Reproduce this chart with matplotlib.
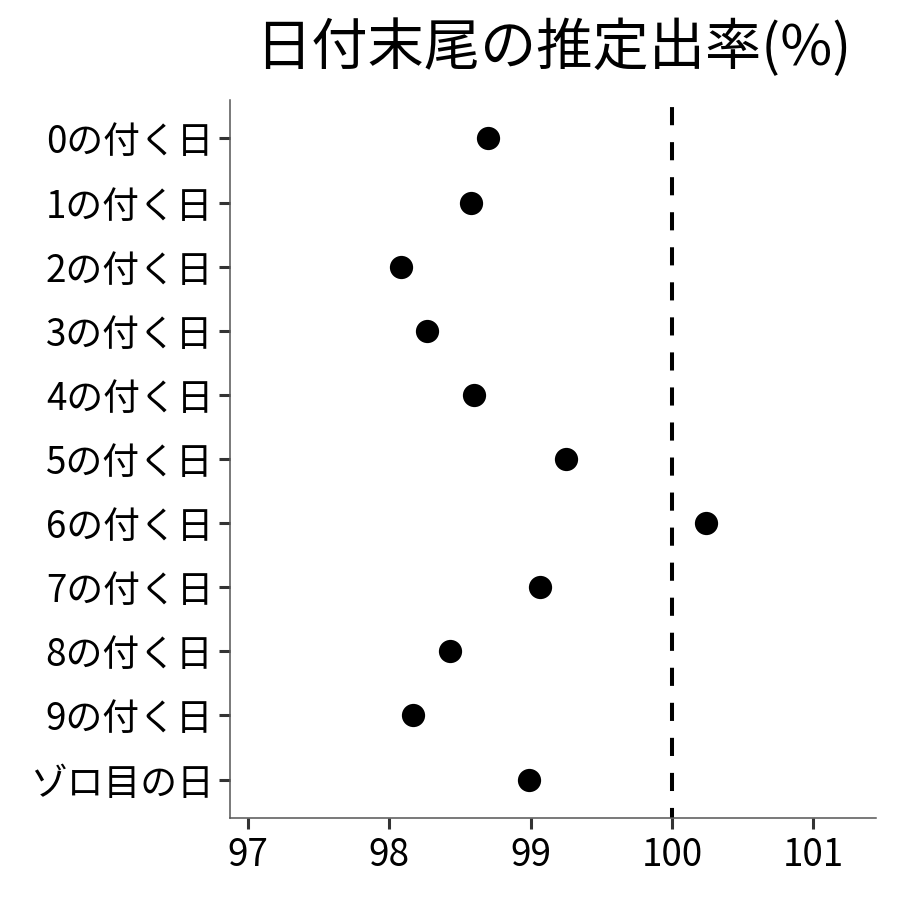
import matplotlib
matplotlib.use("Agg")
import matplotlib.pyplot as plt

plt.rcParams['font.family'] = ['Noto Sans CJK JP', 'DejaVu Sans']

labels = ["0の付く日", "1の付く日", "2の付く日", "3の付く日", "4の付く日",
          "5の付く日", "6の付く日", "7の付く日", "8の付く日", "9の付く日",
          "ゾロ目の日"]
rates = [98.70, 98.58, 98.08, 98.27, 98.60, 99.25, 100.24, 99.07, 98.43, 98.17, 98.99]
x_ticks = [97, 98, 99, 100, 101]
ref_line = 100

fig = plt.figure(figsize=(9, 9), dpi=100)
ax = fig.add_axes([230 / 900, 82 / 900, 646 / 900, 718 / 900])

n = len(labels)
ypos = [n - i for i in range(n)]
ax.scatter(rates, ypos, s=280, color="black", zorder=3, linewidths=0)
ax.axvline(ref_line, color="black", linestyle=(2, (4.5, 4.2)), linewidth=2.9, zorder=2)

ax.set_xlim(96.873, 101.444)
ax.set_ylim(0.4, n + 0.6)
ax.set_yticks(ypos)
ax.set_yticklabels(labels)
ax.set_xticks(x_ticks)
ax.set_xticklabels([str(t) for t in x_ticks])

for s in ["top", "right"]:
    ax.spines[s].set_visible(False)
for s in ["left", "bottom"]:
    ax.spines[s].set_color("#555555")
    ax.spines[s].set_linewidth(1.1)

ax.tick_params(axis="both", colors="#333333", width=2.2, length=8, labelsize=26.5,
               labelcolor="black")
ax.tick_params(axis="y", pad=4)
ax.tick_params(axis="x", pad=5)

ax.set_title("日付末尾の推定出率(%)", fontsize=40.5, pad=25)

fig.savefig("out.png", dpi=100, facecolor="white")
